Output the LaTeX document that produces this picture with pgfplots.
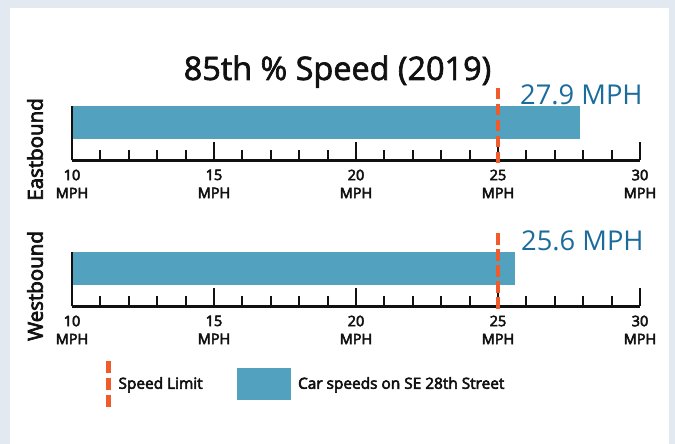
\documentclass[border=0pt]{standalone}
\usepackage{fontspec}
\setmainfont{Open Sans}
\newfontfamily\osemi[FakeBold=3.5]{Open Sans}
\newfontfamily\omed[FakeBold=2]{Open Sans}
\usepackage{pgfplots}
\pgfplotsset{compat=1.18}
\definecolor{bgray}{HTML}{E2E9F0}
\definecolor{barblue}{HTML}{52A1BF}
\definecolor{lblblue}{HTML}{1B6C9C}
\definecolor{limitorg}{HTML}{EF5B2B}
\definecolor{txt}{HTML}{111111}
\pgfplotsset{
  speedaxis/.style={
    scale only axis, width=568pt, height=54pt,
    xmin=10, xmax=30, ymin=0, ymax=1,
    clip=false, set layers, axis on top,
    axis lines*=left,
    axis line style={line width=2.5pt, txt},
    xtick={10,15,20,25,30},
    xticklabels={10\\MPH,15\\MPH,20\\MPH,25\\MPH,30\\MPH},
    minor x tick num=4,
    ytick=\empty,
    tick align=inside,
    major tick length=18pt, minor tick length=10.5pt,
    every tick/.style={line width=2pt, txt},
    xticklabel style={align=center, inner sep=0pt, yshift=-9pt, text=txt,
      font=\osemi\fontsize{14.5}{18}\selectfont},
    every axis y label/.style={rotate=90, anchor=center, inner sep=0pt,
      font=\osemi\fontsize{20.5}{24}\selectfont, text=txt},
  },
  limitline/.style={limitorg, line width=4.5pt, dash pattern=on 11.5pt off 4.5pt},
}
\begin{document}
\begin{tikzpicture}[x=1pt,y=1pt]
\fill[bgray] (0,0) rectangle (675,444);
\fill[white] (10,0) rectangle (669,436);
% Eastbound
\begin{axis}[speedaxis, at={(72pt,283.5pt)}, anchor=south west,
  ylabel={Eastbound}, ylabel style={at={(rel axis cs:-0.0651,0.204)}}]
\addplot[fill=barblue, draw=none] coordinates {(10,0.4) (27.9,0.4) (27.9,1) (10,1)} -- cycle;
\addplot[limitline, on layer=axis foreground] coordinates {(25,1.343) (25,-0.06)};
\node[anchor=base west, inner sep=0pt, text=lblblue, font=\fontsize{27.3}{30}\selectfont]
  at (axis cs:25.775,1.028) {27.9 MPH};
\node[anchor=base, inner sep=0pt, text=txt, font=\omed\fontsize{32.4}{36}\selectfont]
  at (rel axis cs:0.4674,1.491) {85th \% Speed (2019)};
\end{axis}
% Westbound
\begin{axis}[speedaxis, at={(72pt,137.5pt)}, anchor=south west,
  ylabel={Westbound}, ylabel style={at={(rel axis cs:-0.0651,0.38)}},
  legend style={draw=none, fill=none, inner sep=0pt, outer sep=0pt,
    at={(rel axis cs:0.0599,-1.43)}, anchor=west,
    nodes={inner sep=0pt, anchor=west, text=txt, font=\osemi\fontsize{15.4}{18}\selectfont},
    legend columns=2,
    /tikz/column 1/.style={column sep=8pt},
    /tikz/column 2/.style={column sep=34pt},
    /tikz/column 3/.style={column sep=8pt},
  }]
\addplot[fill=barblue, draw=none, forget plot] coordinates {(10,0.4) (25.6,0.4) (25.6,1) (10,1)} -- cycle;
\addplot[limitline, on layer=axis foreground, forget plot] coordinates {(25,1.36) (25,-0.06)};
\node[anchor=base west, inner sep=0pt, text=lblblue, font=\fontsize{27.3}{30}\selectfont]
  at (axis cs:25.81,1.033) {25.6 MPH};
\addlegendimage{legend image code/.code={\draw[limitorg, line width=4.5pt, dash pattern=on 12pt off 5pt] (0pt,23pt) -- (0pt,-23pt);}}
\addlegendentry{Speed Limit}
\addlegendimage{legend image code/.code={\fill[barblue] (0pt,-15.5pt) rectangle (53pt,15.5pt);}}
\addlegendentry{Car speeds on SE 28th Street}
\end{axis}
\pgfresetboundingbox
\useasboundingbox (0,0) rectangle (675,444);
\end{tikzpicture}
\end{document}
